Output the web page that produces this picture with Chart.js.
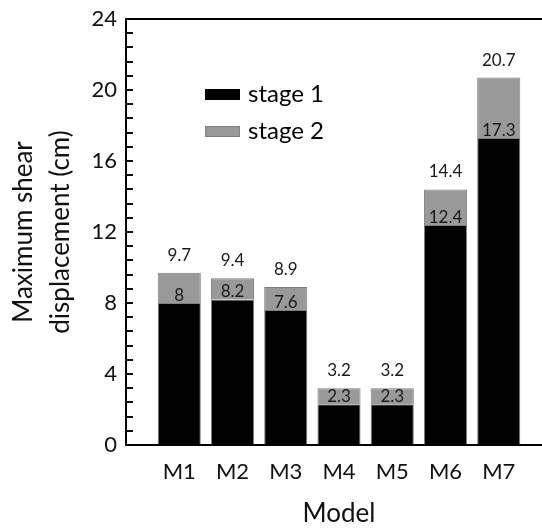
<!DOCTYPE html>
<html>
<head>
<meta charset="utf-8">
<script src="https://cdn.jsdelivr.net/npm/chart.js@4.4.1/dist/chart.umd.min.js"></script>
<style>
  html, body { margin: 0; padding: 0; background: #fff; overflow: hidden; }
  #wrap { position: relative; width: 600px; height: 528px; }
</style>
</head>
<body>
<div id="wrap"><canvas id="c" width="600" height="528"></canvas></div>
<script>
const categories = ['M1', 'M2', 'M3', 'M4', 'M5', 'M6', 'M7'];
const stage1 = [8, 8.2, 7.6, 2.3, 2.3, 12.4, 17.3];
const totals = [9.7, 9.4, 8.9, 3.2, 3.2, 14.4, 20.7];
const seriesNames = ['stage 1', 'stage 2'];
const yMin = 0, yMax = 24, yMajorStep = 4, yMinorStep = 0.8;

const stage2 = totals.map((t, i) => +(t - stage1[i]).toFixed(2));
const labels = [''].concat(categories, ['']);
const pad = arr => [null].concat(arr, [null]);

const FONT = 'Lato, "Open Sans", sans-serif';

function drawFrame(chart) {
  const ctx = chart.ctx, y = chart.scales.y, a = chart.chartArea;
  ctx.save();
  ctx.globalAlpha = 1;
  ctx.globalCompositeOperation = 'source-over';
  ctx.fillStyle = '#000000';
  const n = Math.round((yMax - yMin) / yMinorStep);
  for (let i = 1; i < n; i++) {
    const py = Math.round(y.getPixelForValue(yMin + i * yMinorStep));
    ctx.fillRect(a.left, py - 0.75, 7, 1.5);
  }
  const ty = Math.round(y.getPixelForValue(yMax));
  ctx.fillRect(a.left - 1, ty - 1, a.right - a.left + 2, 2);
  ctx.fillRect(a.right - 1, ty - 1, 2, a.bottom - ty + 2);
  ctx.strokeStyle = '#000000';
  ctx.lineWidth = 2;
  ctx.beginPath();
  ctx.moveTo(a.left - 1, ty);
  ctx.lineTo(a.right, ty);
  ctx.stroke();
  ctx.restore();
}

const frameAndTicks = {
  id: 'frameAndTicks',
  afterDatasetsDraw(chart) { drawFrame(chart); },
  afterDraw(chart) { drawFrame(chart); }
};

const valueLabels = {
  id: 'valueLabels',
  afterDatasetsDraw(chart) {
    const ctx = chart.ctx;
    ctx.save();
    ctx.fillStyle = '#1a1a1a';
    ctx.font = '17px ' + FONT;
    ctx.textAlign = 'center';
    ctx.textBaseline = 'alphabetic';
    const m0 = chart.getDatasetMeta(0), m1 = chart.getDatasetMeta(1);
    m0.data.forEach((bar, i) => {
      const v = chart.data.datasets[0].data[i];
      if (v == null) return;
      ctx.fillText(String(v), bar.x, bar.y - 2);
    });
    m1.data.forEach((bar, i) => {
      const t = chart.data.datasets[1].totals[i];
      if (t == null) return;
      ctx.fillText(String(t), bar.x, bar.y - 12);
    });
    ctx.restore();
  }
};

const legendBox = {
  id: 'legendBox',
  afterDraw(chart) {
    const ctx = chart.ctx;
    ctx.save();
    ctx.font = '24px ' + FONT;
    ctx.textBaseline = 'middle';
    ctx.textAlign = 'left';
    chart.data.datasets.forEach((ds, i) => {
      const x = 205, y = 89 + i * 37;
      ctx.fillStyle = ds.backgroundColor;
      ctx.fillRect(x, y, 35, 11);
      ctx.strokeStyle = ds.legendBorder;
      ctx.lineWidth = 1;
      ctx.strokeRect(x + 0.5, y + 0.5, 34, 10);
      ctx.fillStyle = '#000';
      ctx.fillText(ds.label, 248, y + 5.5);
    });
    ctx.restore();
  }
};

new Chart(document.getElementById('c'), {
  type: 'bar',
  data: {
    labels: labels,
    datasets: [
      { label: seriesNames[0], data: pad(stage1), backgroundColor: '#000000',
        borderColor: '#7f7f7f', borderWidth: 1, legendBorder: '#000000' },
      { label: seriesNames[1], data: pad(stage2), totals: pad(totals), backgroundColor: '#999999',
        borderColor: '#7f7f7f', borderWidth: 1, legendBorder: '#808080' }
    ]
  },
  options: {
    responsive: false,
    animation: false,
    events: [],
    layout: { padding: { left: 0, right: 48, top: 0, bottom: 0 } },
    plugins: { legend: { display: false }, tooltip: { enabled: false } },
    datasets: { bar: { categoryPercentage: 1, barPercentage: 0.81 } },
    scales: {
      x: {
        type: 'category',
        offset: false,
        stacked: true,
        grid: { display: true, drawOnChartArea: false, drawTicks: false },
        border: { display: true, color: '#000', width: 2 },
        ticks: { color: '#111', font: { family: FONT, size: 22 }, padding: 14, autoSkip: false, maxRotation: 0 },
        title: { display: true, text: 'Model', color: '#111', font: { family: FONT, size: 26, lineHeight: 1.0 }, padding: { top: 0, bottom: 1 } },
        afterFit(s) { s.height = 83; }
      },
      y: {
        stacked: true,
        min: yMin, max: yMax,
        grid: { display: true, drawOnChartArea: false, drawTicks: false },
        border: { display: true, color: '#000', width: 2 },
        ticks: { stepSize: yMajorStep, color: '#111', font: { family: FONT, size: 22, lineHeight: 0.909 }, padding: 9 },
        title: { display: true, text: ['Maximum shear', 'displacement (cm)'], color: '#111',
                 font: { family: FONT, size: 26, lineHeight: 1.42 }, padding: { top: 5.5, bottom: 0 } },
        afterFit(s) { s.width = 126; }
      }
    }
  },
  plugins: [frameAndTicks, valueLabels, legendBox]
});
</script>
</body>
</html>
